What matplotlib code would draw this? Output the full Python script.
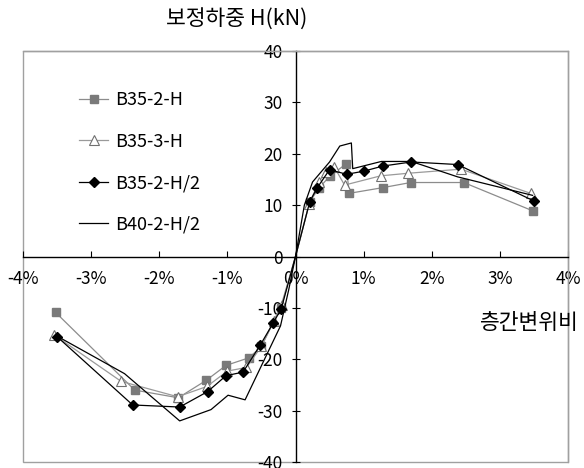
import matplotlib
matplotlib.use("Agg")
import matplotlib.pyplot as plt
from matplotlib.patches import Rectangle
from matplotlib.ticker import FuncFormatter

plt.rcParams['font.family'] = ['Noto Sans CJK KR', 'DejaVu Sans']
plt.rcParams['axes.unicode_minus'] = False

# drift ratio (%) and corrected load H (kN) for each specimen
b35_2h_x = [-3.52, -2.36, -1.72, -1.31, -1.02, -0.68, -0.50, -0.22, 0.0,
            0.21, 0.35, 0.50, 0.74, 0.79, 1.28, 1.69, 2.47, 3.48]
b35_2h_y = [-10.9, -26.0, -27.5, -24.1, -21.2, -19.7, -17.5, -10.0, 0.0,
            10.7, 13.4, 15.6, 18.0, 12.3, 13.4, 14.4, 14.4, 8.9]

b35_3h_x = [-3.54, -2.56, -1.73, -1.30, -1.00, -0.72, -0.50, -0.32, -0.20, 0.0,
            0.20, 0.34, 0.45, 0.57, 0.72, 1.25, 1.65, 2.43, 3.45]
b35_3h_y = [-15.3, -24.3, -27.3, -25.3, -22.3, -21.6, -17.5, -12.5, -9.5, 0.0,
            10.2, 14.5, 16.5, 17.4, 13.9, 15.7, 16.2, 17.0, 12.3]

b35_2h2_x = [-3.50, -2.39, -1.70, -1.29, -1.02, -0.77, -0.52, -0.33, -0.21, 0.0,
             0.21, 0.32, 0.50, 0.75, 1.00, 1.28, 1.70, 2.38, 3.50]
b35_2h2_y = [-15.6, -28.9, -29.3, -26.3, -23.2, -22.5, -17.3, -13.0, -10.2, 0.0,
             10.7, 13.4, 16.9, 16.0, 16.6, 17.6, 18.4, 17.9, 10.8]

b40_2h2_x = [-3.50, -2.51, -1.70, -1.24, -0.99, -0.74, -0.22, -0.10, 0.0,
             0.13, 0.25, 0.50, 0.65, 0.82, 0.84, 1.26, 1.70, 2.38, 3.48]
b40_2h2_y = [-15.5, -22.8, -32.0, -29.8, -27.0, -27.9, -13.5, -6.5, 0.0,
             10.0, 14.5, 18.4, 21.5, 22.1, 17.1, 18.5, 18.5, 15.5, 11.9]

x_ticks = [-4, -3, -2, -1, 0, 1, 2, 3, 4]
y_ticks = [-40, -30, -20, -10, 0, 10, 20, 30, 40]


def off_origin(xs):
    # the curves run through the origin but carry no marker there
    return [i for i, v in enumerate(xs) if v != 0]


fig = plt.figure(figsize=(5.84, 4.68), dpi=100)
ax = fig.add_axes([23 / 584, 1 - 462 / 468, 545 / 584, 411 / 468])

ax.plot(b35_2h_x, b35_2h_y, color='#8c8c8c', lw=0.9, marker='s', ms=6,
        mfc='#7a7a7a', mec='#7a7a7a', markevery=off_origin(b35_2h_x),
        label='B35-2-H')
ax.plot(b35_3h_x, b35_3h_y, color='#9a9a9a', lw=0.9, marker='^', ms=6.5,
        mfc='white', mec='#707070', mew=0.8, markevery=off_origin(b35_3h_x),
        label='B35-3-H')
ax.plot(b35_2h2_x, b35_2h2_y, color='black', lw=0.9, marker='D', ms=5,
        mfc='black', mec='black', markevery=off_origin(b35_2h2_x),
        label='B35-2-H/2')
ax.plot(b40_2h2_x, b40_2h2_y, color='black', lw=0.9, label='B40-2-H/2')

ax.set_xlim(-4, 4)
ax.set_ylim(-40, 40)
ax.set_xticks(x_ticks)
ax.set_yticks(y_ticks)
ax.xaxis.set_major_formatter(FuncFormatter(lambda v, p: f"{int(v)}%"))
ax.yaxis.set_major_formatter(FuncFormatter(lambda v, p: f"{int(v)}"))

# axes through the origin, grey box round the plot area
ax.spines['left'].set_position(('data', 0))
ax.spines['bottom'].set_position(('data', 0))
for s in ['left', 'bottom']:
    ax.spines[s].set_color('black')
    ax.spines[s].set_linewidth(1.0)
for s in ['top', 'right']:
    ax.spines[s].set_color('#a0a0a0')
    ax.spines[s].set_linewidth(1.0)
ax.add_patch(Rectangle((0, 0), 1, 1, transform=ax.transAxes, fill=False,
                       edgecolor='#a0a0a0', lw=1.0, clip_on=False, zorder=0))

ax.tick_params(axis='x', direction='in', length=4, width=0.8, pad=10,
               labelsize=12.5)
ax.tick_params(axis='y', direction='inout', length=6, width=0.8, pad=6,
               labelsize=12.5)

ax.legend(loc='upper left', bbox_to_anchor=(0.09, 0.92), frameon=False,
          fontsize=13, handlelength=1.6, handletextpad=0.4, labelspacing=1.3,
          borderaxespad=0)

fig.text(237 / 584, 1 - 20 / 468, '보정하중 H(kN)', ha='center', va='center',
         fontsize=15.5)
fig.text(529 / 584, 1 - 323 / 468, '층간변위비', ha='center', va='center',
         fontsize=15.5)

fig.savefig('out.png', dpi=100)
